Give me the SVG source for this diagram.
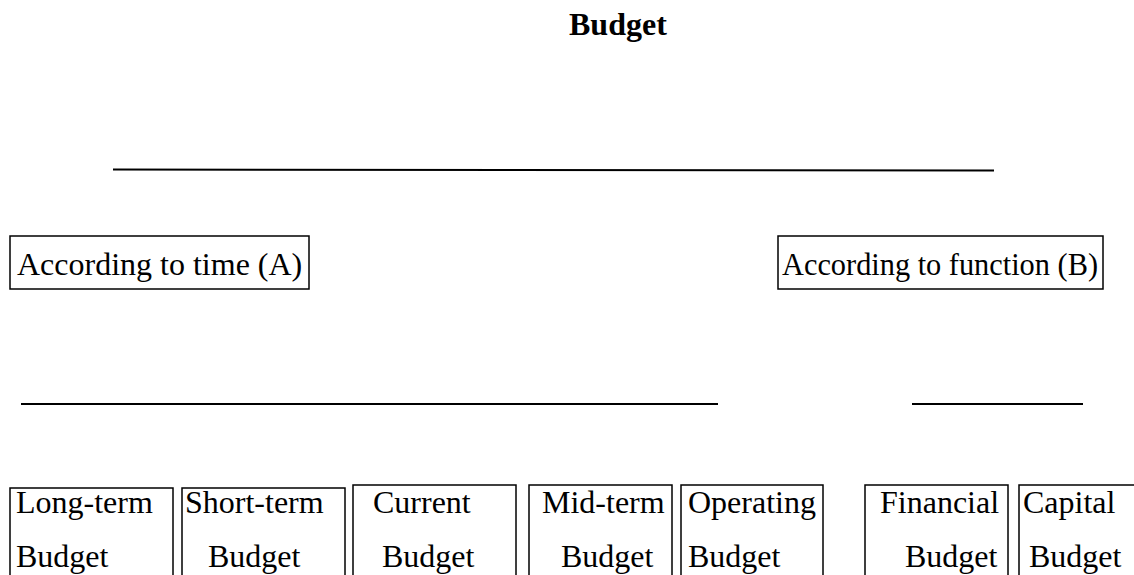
<svg xmlns="http://www.w3.org/2000/svg" width="1134" height="575" viewBox="0 0 1134 575">
  <style>
    .box { fill: #ffffff; stroke: #000000; stroke-width: 1.5; }
    .rule { stroke: #000000; stroke-width: 2; fill: none; }
    .lbl { font-family: "Liberation Serif", "Times New Roman", serif; font-size: 32px; fill: #000000; }
    .title { font-family: "Liberation Serif", "Times New Roman", serif; font-size: 32px; font-weight: bold; fill: #000000; }
  </style>
  <rect width="1134" height="575" fill="#ffffff"/>

  <!-- root heading -->
  <g id="budget">
    <text class="title" x="569" y="35">Budget</text>
  </g>

  <!-- horizontal rules between levels -->
  <g id="connectors">
    <line class="rule" x1="113" y1="169.5" x2="994" y2="170.5"/>
    <line class="rule" x1="21" y1="404" x2="718" y2="404"/>
    <line class="rule" x1="912" y1="404" x2="1083" y2="404"/>
  </g>

  <!-- second level -->
  <g id="by-time">
    <rect class="box" x="10" y="236" width="299" height="53"/>
    <text class="lbl" x="17" y="275">According to time (A)</text>
  </g>
  <g id="by-function">
    <rect class="box" x="778" y="236" width="325" height="53"/>
    <text class="lbl" x="782" y="275" textLength="316" lengthAdjust="spacingAndGlyphs">According to function (B)</text>
  </g>

  <!-- third level -->
  <g id="long-term">
    <rect class="box" x="10" y="488" width="163" height="100"/>
    <text class="lbl" x="16" y="513">Long-term</text>
    <text class="lbl" x="16" y="567">Budget</text>
  </g>
  <g id="short-term">
    <rect class="box" x="182" y="488" width="163" height="100"/>
    <text class="lbl" x="185" y="513">Short-term</text>
    <text class="lbl" x="208" y="567">Budget</text>
  </g>
  <g id="current">
    <rect class="box" x="353" y="485" width="163" height="100"/>
    <text class="lbl" x="373" y="513">Current</text>
    <text class="lbl" x="382" y="567">Budget</text>
  </g>
  <g id="mid-term">
    <rect class="box" x="529" y="485" width="143" height="100"/>
    <text class="lbl" x="542" y="513">Mid-term</text>
    <text class="lbl" x="561" y="567">Budget</text>
  </g>
  <g id="operating">
    <rect class="box" x="681" y="485" width="142" height="100"/>
    <text class="lbl" x="688" y="513">Operating</text>
    <text class="lbl" x="688" y="567">Budget</text>
  </g>
  <g id="financial">
    <rect class="box" x="865" y="485" width="143" height="100"/>
    <text class="lbl" x="880" y="513">Financial</text>
    <text class="lbl" x="905" y="567">Budget</text>
  </g>
  <g id="capital">
    <rect class="box" x="1019" y="485" width="130" height="100"/>
    <text class="lbl" x="1023" y="513">Capital</text>
    <text class="lbl" x="1029" y="567">Budget</text>
  </g>
</svg>
